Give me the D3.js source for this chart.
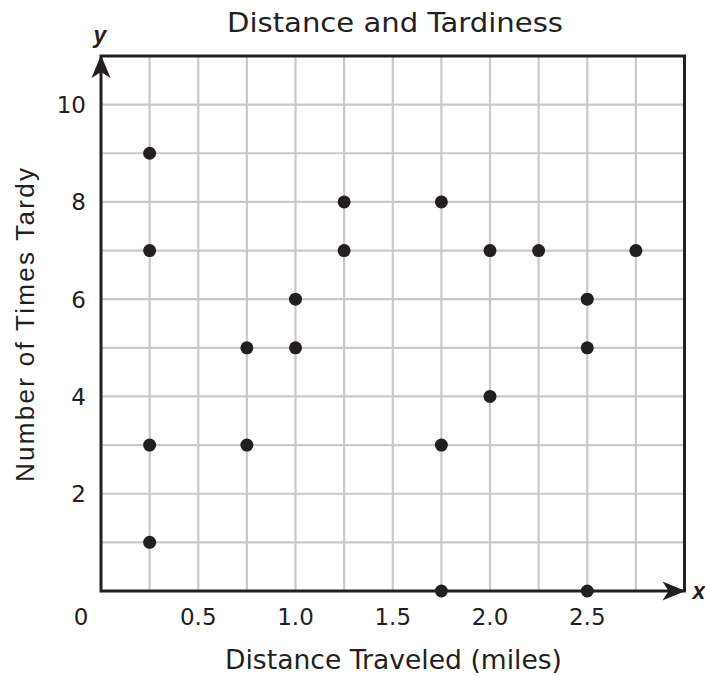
<!DOCTYPE html>
<html>
<head>
<meta charset="utf-8">
<script src="https://cdn.jsdelivr.net/npm/d3@7/dist/d3.min.js"></script>
<style>
  body { margin: 0; background: #fff; }
  text { fill: #231f20; }
</style>
</head>
<body>
<div id="chart"></div>
<script>
// Scatter data
const distance = [0.25, 0.25, 0.25, 0.25, 0.75, 0.75, 1.0, 1.0, 1.25, 1.25,
                  1.75, 1.75, 1.75, 2.0, 2.0, 2.25, 2.5, 2.5, 2.5, 2.75];
const tardy    = [9, 7, 3, 1, 5, 3, 6, 5, 8, 7,
                  8, 3, 0, 7, 4, 7, 6, 5, 0, 7];
const xTicks = [0.5, 1.0, 1.5, 2.0, 2.5];
const yTicks = [2, 4, 6, 8, 10];

const width = 705, height = 677;
const ink = '#231f20';
const gridColor = '#c9c9cb';

const svg = d3.select('#chart').append('svg')
    .attr('width', width)
    .attr('height', height);

const x = d3.scaleLinear().domain([0, 3]).range([101, 684.5]);
const y = d3.scaleLinear().domain([0, 11]).range([591, 56]);

// grid
const g = svg.append('g');
g.selectAll('line.vx')
    .data(d3.range(1, 12).map(i => i * 0.25))
    .enter().append('line')
    .attr('x1', d => x(d)).attr('x2', d => x(d))
    .attr('y1', y(0)).attr('y2', y(11))
    .attr('stroke', gridColor).attr('stroke-width', 2.2);
g.selectAll('line.hy')
    .data(d3.range(1, 11))
    .enter().append('line')
    .attr('x1', x(0)).attr('x2', x(3))
    .attr('y1', d => y(d)).attr('y2', d => y(d))
    .attr('stroke', gridColor).attr('stroke-width', 2.2);

// frame
svg.append('rect')
    .attr('x', x(0)).attr('y', y(11))
    .attr('width', x(3) - x(0)).attr('height', y(0) - y(11))
    .attr('fill', 'none').attr('stroke', ink).attr('stroke-width', 3);

// arrowheads
const ax = x(3) + 1, ay = y(0);
svg.append('path')
    .attr('d', `M${ax},${ay} L${ax - 23},${ay - 9.5} L${ax - 17},${ay} L${ax - 23},${ay + 9.5} Z`)
    .attr('fill', ink);
const tx = x(0), ty = y(11) - 1;
svg.append('path')
    .attr('d', `M${tx},${ty} L${tx - 9.5},${ty + 23} L${tx},${ty + 17} L${tx + 9.5},${ty + 23} Z`)
    .attr('fill', ink);

// tick labels
const tickFont = 'DejaVu Sans, Verdana, sans-serif';
svg.append('text').attr('x', 81).attr('y', 625).attr('text-anchor', 'middle')
    .style('font-family', tickFont).style('font-size', '23px').text('0');
svg.selectAll('text.xt').data(xTicks).enter().append('text')
    .attr('x', d => x(d)).attr('y', 625).attr('text-anchor', 'middle')
    .style('font-family', tickFont).style('font-size', '23px')
    .text(d => d.toFixed(1));
svg.selectAll('text.yt').data(yTicks).enter().append('text')
    .attr('x', 86).attr('y', d => y(d) + 8.5).attr('text-anchor', 'end')
    .style('font-family', tickFont).style('font-size', '23px')
    .text(d => d);

// axis letters
svg.append('text').attr('x', 699).attr('y', 599).attr('text-anchor', 'middle')
    .style('font-family', 'Liberation Sans, Arial, sans-serif').style('font-size', '23px')
    .style('font-weight', 'bold').style('font-style', 'italic').text('x');
svg.append('text').attr('x', 100).attr('y', 43).attr('text-anchor', 'middle')
    .style('font-family', 'Liberation Sans, Arial, sans-serif').style('font-size', '23px')
    .style('font-weight', 'bold').style('font-style', 'italic').text('y');

// titles
svg.append('text').attr('x', 395).attr('y', 32).attr('text-anchor', 'middle')
    .attr('textLength', 336).attr('lengthAdjust', 'spacingAndGlyphs')
    .style('font-family', tickFont).style('font-size', '27px')
    .text('Distance and Tardiness');
svg.append('text').attr('x', 393.5).attr('y', 669).attr('text-anchor', 'middle')
    .attr('textLength', 337).attr('lengthAdjust', 'spacingAndGlyphs')
    .style('font-family', tickFont).style('font-size', '27px')
    .text('Distance Traveled (miles)');
svg.append('text')
    .attr('transform', `translate(34, 325) rotate(-90)`)
    .attr('text-anchor', 'middle')
    .attr('textLength', 314).attr('lengthAdjust', 'spacing')
    .style('font-family', 'Liberation Sans, Arial, sans-serif').style('font-size', '26px')
    .text('Number of Times Tardy');

// points
svg.selectAll('circle.pt')
    .data(distance.map((d, i) => [d, tardy[i]]))
    .enter().append('circle')
    .attr('cx', d => x(d[0]))
    .attr('cy', d => y(d[1]))
    .attr('r', 6.5)
    .attr('fill', ink);
</script>
</body>
</html>
